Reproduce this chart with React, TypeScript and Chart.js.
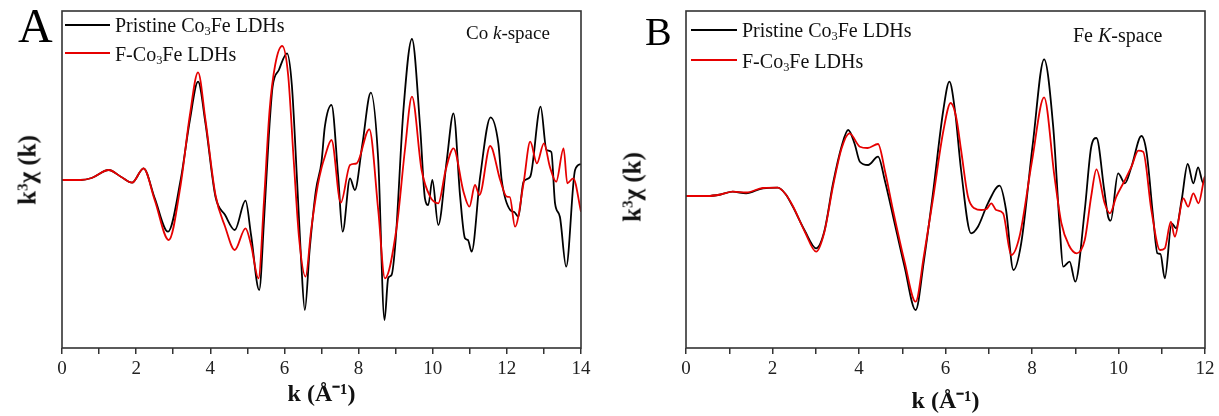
import React, { useEffect, useRef } from "react";
import { Chart, registerables } from "chart.js";

Chart.register(...registerables);

const SERIF = "'Liberation Serif', 'Times New Roman', serif";

// ---- Data (k in Å^-1, k^3·chi(k) in arbitrary units) ----
const pristineCo: [number, number][] = [
  [0, 0], [0.5, 0], [0.8, 0.2], [1.26, 1.0], [1.6, 0.3], [1.89, -0.27], [2.2, 1.17], [2.5, -1.8],
  [2.86, -5.17], [3.2, 0], [3.45, 6.0], [3.67, 9.83], [3.87, 5.67], [4.14, -1.67], [4.4, -3.5],
  [4.66, -5.0], [4.95, -2.07], [5.1, -5.5], [5.32, -11.0], [5.45, -4], [5.58, 4.5], [5.68, 9.3],
  [5.85, 11.0], [6.07, 12.67], [6.2, 9.5], [6.34, 0], [6.45, -8], [6.55, -13], [6.68, -7],
  [6.85, -1], [7.0, 1.8], [7.09, 5.33], [7.27, 7.5], [7.45, 0.33], [7.57, -5.17], [7.77, 0.17],
  [7.9, -1.0], [8.1, 3.5], [8.33, 8.73], [8.53, 2.0], [8.7, -14.0], [8.8, -9.8], [8.89, -9.5],
  [9.0, -6], [9.21, 7], [9.44, 14.1], [9.66, 5.33], [9.79, -1.83], [9.88, -2.5], [9.99, 0],
  [10.15, -4.5], [10.38, 2], [10.56, 6.67], [10.74, -1.67], [10.87, -5.83], [10.95, -6.0],
  [11.05, -7.17], [11.28, 0.33], [11.56, 6.27], [11.77, 3.67], [11.86, 0], [12.09, -3.0],
  [12.2, -3.2], [12.31, -3.67], [12.45, -0.17], [12.63, 0.33], [12.91, 7.33], [13.07, 3.0],
  [13.2, 2.8], [13.3, -2.33], [13.43, -3.67], [13.6, -8.67], [13.84, 1], [14.0, 1.6],
];

const fluorCo: [number, number][] = [
  [0, 0], [0.5, 0], [0.8, 0.2], [1.26, 1.0], [1.6, 0.3], [1.89, -0.27], [2.2, 1.17], [2.5, -2.0],
  [2.88, -6.0], [3.2, -0.5], [3.45, 6.5], [3.67, 10.77], [3.87, 6.0], [4.14, -1.5], [4.4, -4.67],
  [4.66, -7.0], [4.95, -4.83], [5.1, -6.5], [5.3, -9.83], [5.45, -2], [5.6, 7], [5.75, 11.5],
  [5.94, 13.4], [6.1, 10.5], [6.25, 2], [6.4, -6], [6.57, -9.67], [6.72, -5], [6.9, -0.5],
  [7.0, 1.2], [7.09, 2.33], [7.27, 4.0], [7.52, -2.27], [7.77, 1.5], [7.95, 1.67], [8.29, 5.07],
  [8.53, -3], [8.71, -9.83], [9.03, -4.67], [9.25, 3], [9.44, 8.33], [9.7, 1], [9.93, -1.67],
  [10.15, -2.33], [10.35, 1], [10.56, 3.17], [10.83, -1.17], [10.99, -2.67], [11.14, -0.5],
  [11.26, -1.5], [11.55, 3.4], [11.82, 0], [12.0, -1.67], [12.08, -1.7], [12.22, -4.67],
  [12.45, -0.33], [12.63, 3.83], [12.81, 1.67], [13.0, 3.67], [13.16, 1.33], [13.33, -0.17],
  [13.53, 3.17], [13.63, -0.33], [13.79, 0.17], [14.0, -3.17],
];

const pristineFe: [number, number][] = [
  [0, 0], [0.5, 0], [0.8, 0.15], [1.08, 0.43], [1.39, 0.27], [1.78, 0.77], [2.12, 0.83], [2.3, 0.2],
  [2.47, -1.07], [2.75, -3.5], [3.01, -5.23], [3.2, -3.5], [3.4, 1.27], [3.6, 5.0], [3.75, 6.6],
  [3.9, 5.2], [4.02, 3.43], [4.21, 3.1], [4.44, 3.93], [4.6, 1.5], [4.79, -2.07], [5.05, -7],
  [5.31, -11.4], [5.5, -6.5], [5.71, 0.27], [5.95, 8.6], [6.09, 11.43], [6.22, 8.5], [6.36, 2.6],
  [6.59, -3.73], [6.75, -3.07], [6.98, -0.73], [7.25, 1.03], [7.4, -1.4], [7.57, -7.4],
  [7.75, -4.73], [8.02, 5.27], [8.28, 13.67], [8.49, 6.93], [8.64, -3.07], [8.72, -7.07],
  [8.87, -6.57], [9.0, -8.57], [9.22, -1.4], [9.37, 4.93], [9.49, 5.8], [9.67, 0.6], [9.76, -2.07],
  [9.82, -2.47], [9.99, 2.27], [10.15, 1.27], [10.3, 2.93], [10.53, 6.0], [10.65, 4.33],
  [10.8, -2.07], [10.9, -5.73], [10.97, -5.8], [11.07, -8.23], [11.23, -2.73], [11.33, -3.23],
  [11.46, -0.4], [11.6, 3.2], [11.73, 1.27], [11.84, 2.87], [11.96, 1.27], [12.0, 2.0],
];

const fluorFe: [number, number][] = [
  [0, 0], [0.5, 0], [0.8, 0.15], [1.08, 0.43], [1.39, 0.35], [1.78, 0.8], [2.12, 0.83], [2.3, 0.2],
  [2.47, -1.0], [2.75, -3.6], [3.01, -5.57], [3.2, -3.6], [3.4, 1.0], [3.6, 4.8], [3.78, 6.27],
  [4.02, 4.93], [4.2, 4.8], [4.44, 5.2], [4.6, 2.5], [4.79, -1.5], [5.05, -6.5], [5.31, -10.57],
  [5.5, -6.0], [5.71, -0.3], [5.95, 6.5], [6.12, 9.3], [6.25, 7.8], [6.36, 4.6], [6.52, -0.07],
  [6.67, -1.23], [6.83, -1.4], [6.95, -1.3], [7.06, -0.73], [7.17, -1.4], [7.33, -1.73],
  [7.52, -5.9], [7.71, -4.07], [8.0, 3.5], [8.28, 9.87], [8.52, 1.93], [8.68, -2.73], [8.85, -4.9],
  [9.03, -5.73], [9.22, -4.4], [9.37, 0], [9.49, 2.67], [9.68, -0.73], [9.8, -1.73], [9.95, -0.07],
  [10.15, 1.6], [10.3, 2.93], [10.46, 4.53], [10.57, 4.43], [10.76, -1.4], [10.96, -5.4],
  [11.07, -5.23], [11.21, -2.57], [11.3, -4.07], [11.5, -0.23], [11.61, -1.07], [11.73, 0.27],
  [11.85, -0.73], [11.96, 1.27], [12.0, 2.0],
];

const seriesLabels = ["Pristine Co3Fe LDHs", "F-Co3Fe LDHs"];
const panelLetters = ["A", "B"];
const panelNotes = ["Co", "Fe"];
const xTitle = "k (Å⁻¹)";

const BLACK = "#000000";
const RED = "#e60000";

const framePlugin = {
  id: "frame",
  afterDatasetsDraw(chart: any) {
    const { ctx, chartArea } = chart;
    const { left, top, right, bottom } = chartArea;
    ctx.save();
    ctx.strokeStyle = "#333";
    ctx.lineWidth = 1.6;
    ctx.strokeRect(left, top, right - left, bottom - top);
    ctx.restore();
  },
};

type PanelProps = {
  left: number;
  width: number;
  yWidth: number;
  padRight: number;
  xMax: number;
  yMin: number;
  yMax: number;
  black: [number, number][];
  red: [number, number][];
  titlePad: number;
};

function PanelChart(p: PanelProps) {
  const ref = useRef<HTMLCanvasElement | null>(null);
  useEffect(() => {
    if (!ref.current) return;
    const chart = new Chart(ref.current, {
      type: "line",
      data: {
        datasets: [
          {
            label: seriesLabels[1],
            data: p.red.map(([x, y]) => ({ x, y })),
            borderColor: RED,
            borderWidth: 1.8,
            pointRadius: 0,
            cubicInterpolationMode: "monotone",
            order: 0,
          },
          {
            label: seriesLabels[0],
            data: p.black.map(([x, y]) => ({ x, y })),
            borderColor: BLACK,
            borderWidth: 1.8,
            pointRadius: 0,
            cubicInterpolationMode: "monotone",
            order: 1,
          },
        ],
      },
      options: {
        responsive: false,
        animation: false,
        layout: { padding: { left: 0, right: p.padRight, top: 11, bottom: 0 } },
        plugins: { legend: { display: false }, tooltip: { enabled: false } },
        scales: {
          x: {
            type: "linear",
            min: 0,
            max: p.xMax,
            afterFit: (s: any) => {
              s.height = 68;
            },
            ticks: {
              stepSize: 1,
              autoSkip: false,
              maxRotation: 0,
              padding: 4,
              color: "#222",
              font: { family: SERIF, size: 19 },
              callback: (v: any) => (Number(v) % 2 === 0 ? String(v) : ""),
            },
            grid: {
              drawOnChartArea: false,
              drawTicks: true,
              tickLength: 6,
              color: "#333",
              lineWidth: 1.5,
            },
            border: { display: false },
            title: {
              display: true,
              text: xTitle,
              color: "#111",
              font: { family: SERIF, size: 24, weight: "bold" },
              padding: { top: 0, bottom: p.titlePad },
            },
          },
          y: {
            type: "linear",
            min: p.yMin,
            max: p.yMax,
            afterFit: (s: any) => {
              s.width = p.yWidth;
            },
            ticks: { display: false },
            grid: { display: false },
            border: { display: false },
          },
        },
      } as any,
      plugins: [framePlugin],
    });
    return () => chart.destroy();
  }, []);
  return (
    <canvas
      ref={ref}
      width={p.width}
      height={416}
      style={{ position: "absolute", left: p.left, top: 0, width: p.width, height: 416 }}
    />
  );
}

const txt: React.CSSProperties = {
  position: "absolute",
  fontFamily: SERIF,
  lineHeight: 1,
  whiteSpace: "nowrap",
  color: "#111",
};

function Co3Fe({ prefix }: { prefix: string }) {
  return (
    <>
      {prefix}Co<sub style={{ fontSize: "0.62em", verticalAlign: "-0.25em", lineHeight: 0 }}>3</sub>Fe LDHs
    </>
  );
}

function Legend({ x, y1, y2, lineX0, lineX1 }: { x: number; y1: number; y2: number; lineX0: number; lineX1: number }) {
  return (
    <>
      <div style={{ position: "absolute", left: lineX0, top: y1 - 0.8, width: lineX1 - lineX0, height: 1.6, background: BLACK }} />
      <div style={{ ...txt, left: x, top: y1 - 0.8 - 16.75 + 7.5, fontSize: 20 }}>
        <Co3Fe prefix="Pristine " />
      </div>
      <div style={{ position: "absolute", left: lineX0, top: y2 - 0.8, width: lineX1 - lineX0, height: 1.6, background: RED }} />
      <div style={{ ...txt, left: x, top: y2 - 0.8 - 16.75 + 8.5, fontSize: 20 }}>
        <Co3Fe prefix="F-" />
      </div>
    </>
  );
}

function YTitle({ cx, cy }: { cx: number; cy: number }) {
  return (
    <div
      style={{
        ...txt,
        left: cx,
        top: cy,
        fontSize: 25,
        fontWeight: "bold",
        transform: "translate(-50%, -50%) rotate(-90deg)",
      }}
    >
      k<sup style={{ fontSize: "0.6em", verticalAlign: "0.55em", lineHeight: 0 }}>3</sup>χ (k)
    </div>
  );
}

export default function App() {
  return (
    <div
      style={{
        position: "fixed",
        left: 0,
        top: 0,
        width: 1219,
        height: 416,
        background: "#fff",
        overflow: "hidden",
      }}
    >
      <PanelChart left={0} width={600} yWidth={62} padRight={19} xMax={14} yMin={-16.8} yMax={16.9} black={pristineCo} red={fluorCo} titlePad={7} />
      <PanelChart left={610} width={609} yWidth={76} padRight={14} xMax={12} yMin={-15.2} yMax={18.5} black={pristineFe} red={fluorFe} titlePad={0} />

      <div style={{ ...txt, left: 18, top: 1.5, fontSize: 48, color: "#000" }}>{panelLetters[0]}</div>
      <div style={{ ...txt, left: 645, top: 11.5, fontSize: 40, color: "#000" }}>{panelLetters[1]}</div>

      <Legend x={115} y1={25} y2={53} lineX0={65} lineX1={110} />
      <Legend x={742} y1={30} y2={60} lineX0={691} lineX1={737} />

      <div style={{ ...txt, left: 466, top: 23, fontSize: 19 }}>
        {panelNotes[0]} <i>k</i>-space
      </div>
      <div style={{ ...txt, left: 1073, top: 25, fontSize: 20 }}>
        {panelNotes[1]} <i>K</i>-space
      </div>

      <YTitle cx={27} cy={170} />
      <YTitle cx={632} cy={187} />
    </div>
  );
}
